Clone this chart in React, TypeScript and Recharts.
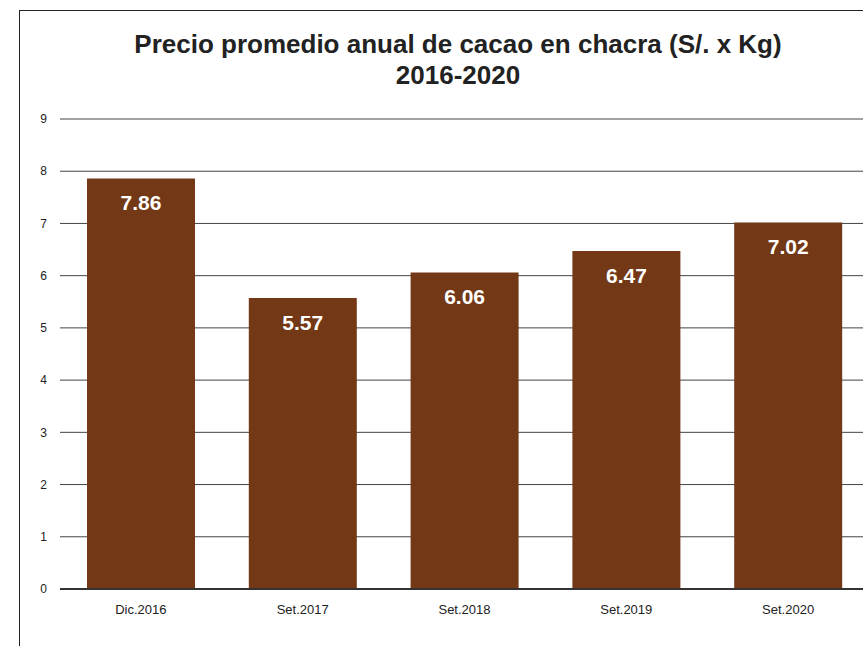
import React from 'react';
import { BarChart, Bar, XAxis, YAxis, CartesianGrid, LabelList } from 'recharts';

const periods = ['Dic.2016', 'Set.2017', 'Set.2018', 'Set.2019', 'Set.2020'];
const prices = [7.86, 5.57, 6.06, 6.47, 7.02];
const yTicks = [0, 1, 2, 3, 4, 5, 6, 7, 8, 9];

const data = periods.map((p, i) => ({ name: p, value: prices[i] }));

const font = '"Liberation Sans", Arial, sans-serif';

export default function App() {
    return (
        <div
            style={{
                position: 'fixed',
                left: 0,
                top: 0,
                width: 863,
                height: 646,
                overflow: 'hidden',
                background: '#fff',
                fontFamily: font,
            }}
        >
            <div
                style={{
                    position: 'absolute',
                    left: 19,
                    top: 10,
                    width: 900,
                    height: 700,
                    borderLeft: '1px solid #222',
                    borderTop: '1px solid #222',
                }}
            />
            <div
                style={{
                    position: 'absolute',
                    left: 0,
                    top: 29,
                    width: 916,
                    textAlign: 'center',
                    fontWeight: 'bold',
                    fontSize: 26,
                    lineHeight: '31px',
                    color: '#222',
                }}
            >
                Precio promedio anual de cacao en chacra (S/. x Kg)
                <br />
                2016-2020
            </div>
            <div style={{ position: 'absolute', left: 0, top: 0 }}>
                <BarChart
                    width={882}
                    height={646}
                    data={data}
                    margin={{ top: 119, right: 13, bottom: 27, left: 0 }}
                    barCategoryGap={27}
                >
                    <CartesianGrid vertical={false} stroke="#444" />
                    <XAxis
                        dataKey="name"
                        height={30}
                        tickLine={false}
                        axisLine={{ stroke: '#333', strokeWidth: 2 }}
                        tickSize={0}
                        tickMargin={16}
                        tick={{ fill: '#222', fontSize: 13, fontFamily: font }}
                    />
                    <YAxis
                        width={60}
                        domain={[0, 9]}
                        ticks={yTicks}
                        axisLine={false}
                        tickLine={false}
                        tickSize={0}
                        tickMargin={13}
                        tick={{ fill: '#222', fontSize: 12, fontFamily: font }}
                    />
                    <Bar dataKey="value" fill="#733816" isAnimationActive={false}>
                        <LabelList
                            dataKey="value"
                            position="insideTop"
                            offset={17}
                            fill="#fff"
                            fontSize={21}
                            fontWeight="bold"
                            fontFamily={font}
                            formatter={(v: number) => v.toFixed(2)}
                        />
                    </Bar>
                </BarChart>
            </div>
        </div>
    );
}
